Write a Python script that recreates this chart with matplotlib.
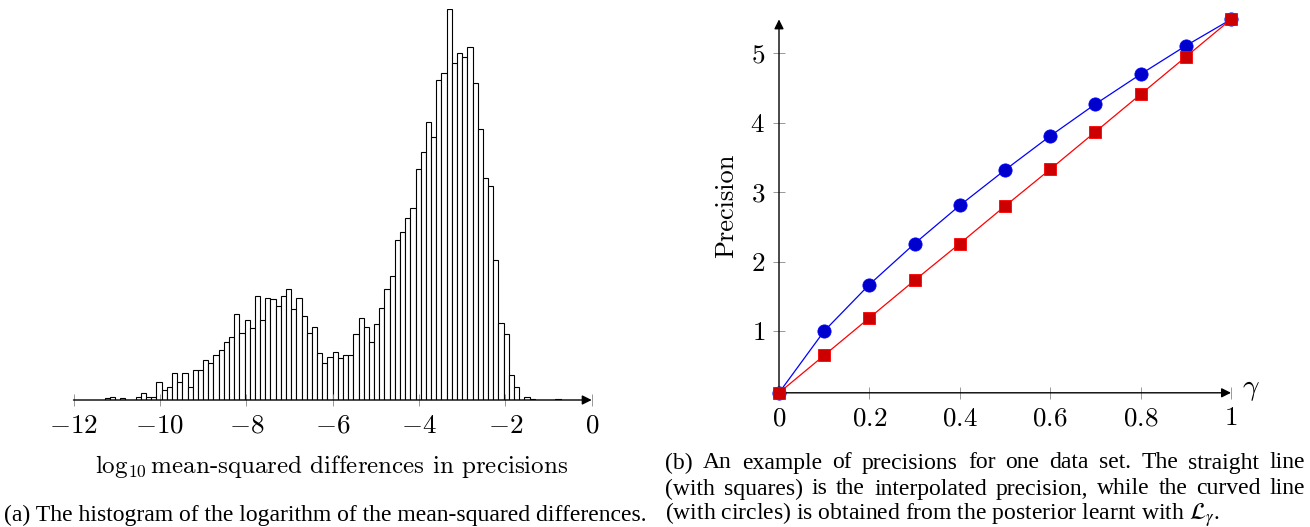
import numpy as np
import matplotlib
matplotlib.use("Agg")
import matplotlib.pyplot as plt

plt.rcParams["mathtext.fontset"] = "cm"
plt.rcParams["font.family"] = ["cmr10", "DejaVu Serif"]
plt.rcParams["axes.unicode_minus"] = False

# ── data ──────────────────────────────────────────────────────────────────────
# (a) histogram of log10 mean-squared differences (88 bins)
BIN_START = -11.28
BIN_WIDTH = 0.12
counts = [2, 3, 0, 2, 0, 0, 3, 7, 3, 3,
          18, 10, 13, 27, 18, 27, 13, 30, 30, 40,
          37, 45, 50, 58, 63, 86, 67, 80, 72, 104,
          80, 102, 101, 94, 104, 111, 91, 102, 84, 67,
          73, 47, 37, 43, 48, 42, 45, 45, 66, 82,
          73, 58, 76, 92, 111, 124, 160, 168, 182, 192,
          231, 248, 278, 263, 320, 327, 391, 337, 347, 343,
          353, 317, 271, 222, 214, 140, 77, 66, 25, 13,
          0, 3, 1, 0, 0, 0, 0, 1]
hist_ticks = [-12, -10, -8, -6, -4, -2, 0]

# (b) precision vs gamma
gamma        = [0.0, 0.1, 0.2, 0.3, 0.4, 0.5, 0.6, 0.7, 0.8, 0.9, 1.0]
posterior    = [0.11, 1.00, 1.67, 2.26, 2.81, 3.32, 3.81, 4.27, 4.70, 5.11, 5.49]
interpolated = [0.11, 0.65, 1.19, 1.73, 2.26, 2.80, 3.33, 3.87, 4.41, 4.95, 5.49]
gamma_ticks  = [0, 0.2, 0.4, 0.6, 0.8, 1]
gamma_labels = ["0", "0.2", "0.4", "0.6", "0.8", "1"]
prec_ticks   = [1, 2, 3, 4, 5]

W, H = 1310, 527
fig = plt.figure(figsize=(W / 100, H / 100), dpi=100)

TICK_FS = 19.5
TICK_KW = dict(direction="inout", length=8, width=0.6, color="#888888")

# ══════════════════════════════════════════════════════════════════════════════
# (a) histogram
# ══════════════════════════════════════════════════════════════════════════════
ax1 = fig.add_axes([73.5 / W, 1 - 400 / H, 518.2 / W, 390.7 / H])
lefts = BIN_START + BIN_WIDTH * np.arange(len(counts))
ax1.bar(lefts, counts, width=BIN_WIDTH, align="edge", color="white",
        edgecolor="black", linewidth=0.8)
ax1.set_xlim(-12, 0)
ax1.set_ylim(0, 391)
for s in ax1.spines.values():
    s.set_visible(False)
ax1.annotate("", xy=(0, 0), xytext=(-12, 0), xycoords="data",
             arrowprops=dict(arrowstyle="-|>", color="black", lw=1.0,
                             mutation_scale=14, shrinkA=0, shrinkB=0))
ax1.set_yticks([])
ax1.set_xticks(hist_ticks)
ax1.set_xticklabels([f"${t}$" for t in hist_ticks], fontsize=TICK_FS)
ax1.tick_params(axis="x", pad=6, labelcolor="black", **TICK_KW)
fig.text(332 / W, 1 - 466 / H,
         r"$\log_{10}$mean-squared differences in precisions",
         ha="center", va="center", fontsize=18)

# ══════════════════════════════════════════════════════════════════════════════
# (b) precision vs gamma
# ══════════════════════════════════════════════════════════════════════════════
YMIN, YMAX = 0.11, 5.49
ax2 = fig.add_axes([779 / W, 1 - 392.8 / H, 452 / W, 373.4 / H])
ax2.plot(gamma, posterior, color="#0000ff", lw=0.9, marker="o", ms=9.5,
         mfc="#0000cc", mec="#0000ff", mew=0.6, clip_on=False, zorder=3)
ax2.plot(gamma, interpolated, color="#ff0000", lw=0.9, marker="s", ms=9,
         mfc="#cc0000", mec="#ff0000", mew=0.6, clip_on=False, zorder=4)
ax2.set_xlim(0, 1)
ax2.set_ylim(YMIN, YMAX)
for s in ax2.spines.values():
    s.set_visible(False)
ax2.annotate("", xy=(1, YMIN), xytext=(0, YMIN), xycoords="data",
             arrowprops=dict(arrowstyle="-|>", color="black", lw=1.0,
                             mutation_scale=14, shrinkA=0, shrinkB=0))
ax2.annotate("", xy=(0, YMAX), xytext=(0, YMIN), xycoords="data",
             arrowprops=dict(arrowstyle="-|>", color="black", lw=1.0,
                             mutation_scale=14, shrinkA=0, shrinkB=0))
ax2.set_xticks(gamma_ticks)
ax2.set_xticklabels([f"${l}$" for l in gamma_labels], fontsize=TICK_FS)
ax2.set_yticks(prec_ticks)
ax2.set_yticklabels([f"${t}$" for t in prec_ticks], fontsize=TICK_FS)
ax2.tick_params(axis="both", pad=6, labelcolor="black", **TICK_KW)
ax2.set_ylabel("Precision", fontsize=19)
ax2.yaxis.set_label_coords((738 - 779) / 452, 0.5)
ax2.text(1.025, YMIN + 0.05, r"$\gamma$", fontsize=21, ha="left", va="center")

# ══════════════════════════════════════════════════════════════════════════════
# captions (Times-like)
# ══════════════════════════════════════════════════════════════════════════════
CAP = dict(fontsize=17, family="Liberation Serif", va="center",
           math_fontfamily="stix")
fig.text(4 / W, 1 - 515 / H,
         "(a) The histogram of the logarithm of the mean-squared differences.",
         ha="left", **CAP)

renderer = fig.canvas.get_renderer()


def justify(line, x0, x1, y):
    words = line.split(" ")
    texts = [fig.text(0, 1 - y / H, w, ha="left", **CAP) for w in words]
    widths = [t.get_window_extent(renderer).width for t in texts]
    gap = (x1 - x0 - sum(widths)) / (len(words) - 1)
    x = x0
    for t, w in zip(texts, widths):
        t.set_x(x / W)
        x += w + gap


justify("(b) An example of precisions for one data set. The straight line",
        665, 1305, 463)
justify("(with squares) is the interpolated precision, while the curved line",
        665, 1305, 489)
fig.text(665 / W, 1 - 515 / H,
         r"(with circles) is obtained from the posterior learnt with $\mathcal{L}_\gamma$.",
         ha="left", **CAP)

fig.savefig("out.png", dpi=100)
